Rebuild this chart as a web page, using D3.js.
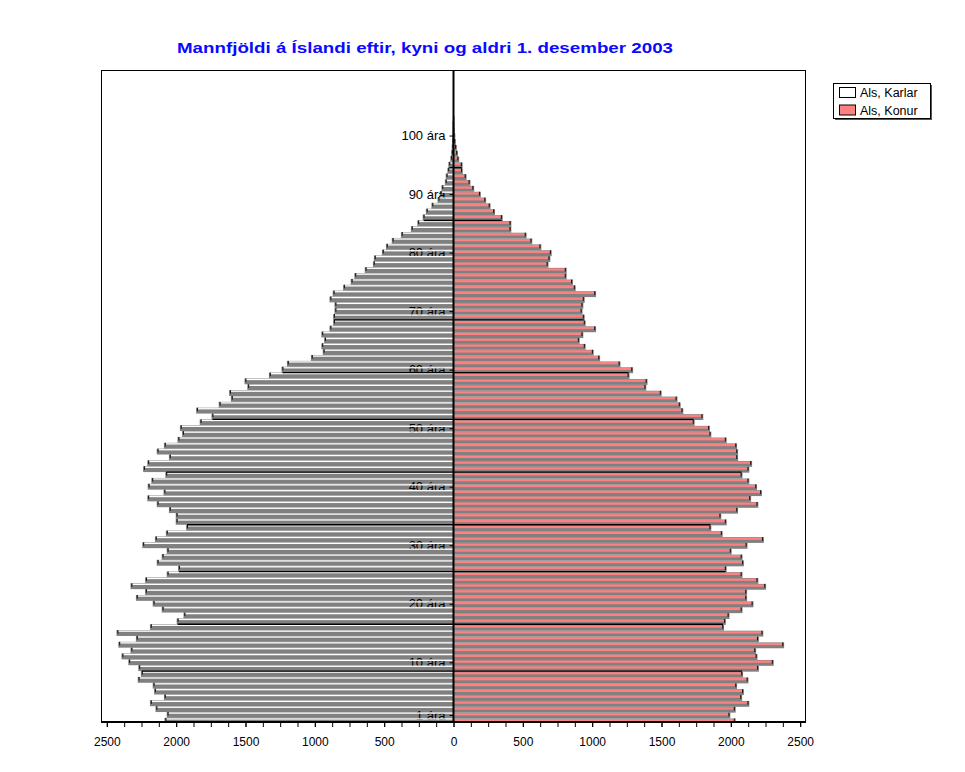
<!DOCTYPE html>
<html>
<head>
<meta charset="utf-8">
<script src="https://cdn.jsdelivr.net/npm/d3@7"></script>
<style>
  body { margin: 0; background: #fff; }
  svg { display: block; font-family: "Liberation Sans", Arial, sans-serif; }
</style>
</head>
<body>
<svg id="chart" width="965" height="772"></svg>
<script>
// Mannfjöldi eftir aldri (0–103 ára), 1. desember 2003
const ages = d3.range(0, 104);

const karlar = [
  2077, 2061, 2142, 2182, 2081, 2152, 2162, 2270, 2247, 2266,
  2338, 2387, 2322, 2410, 2283, 2423, 2182, 1989, 1940, 2097,
  2162, 2283, 2217, 2322, 2217, 2061, 1979, 2133, 2097, 2061,
  2237, 2146, 2067, 1921, 1996, 1996, 2045, 2133, 2201, 2084,
  2198, 2172, 2071, 2231, 2201, 2045, 2133, 2081, 1983, 1950,
  1966, 1823, 1738, 1849, 1686, 1598, 1611, 1480, 1500, 1324,
  1233, 1194, 1021, 936, 946, 926, 946, 887, 861, 861,
  851, 851, 887, 864, 789, 734, 708, 633, 574, 567,
  509, 480, 438, 372, 300, 254, 215, 192, 152, 108,
  92, 80, 55, 49, 37, 30, 16, 10, 6, 4,
  2, 1, 1, 0
];

const konur = [
  2028, 1989, 2028, 2126, 2074, 2087, 2038, 2120, 2081, 2195,
  2302, 2185, 2175, 2377, 2195, 2227, 1944, 1957, 1983, 2077,
  2156, 2110, 2110, 2247, 2191, 2077, 1963, 2087, 2077, 1999,
  2113, 2231, 1934, 1852, 1963, 1924, 2045, 2191, 2139, 2217,
  2182, 2126, 2077, 2126, 2146, 2045, 2045, 2038, 1963, 1852,
  1842, 1732, 1794, 1650, 1631, 1608, 1494, 1383, 1392, 1262,
  1288, 1197, 1050, 1004, 946, 903, 929, 1021, 946, 939,
  923, 929, 939, 1021, 874, 854, 809, 809, 678, 691,
  701, 626, 561, 520, 410, 410, 348, 292, 260, 228,
  190, 142, 115, 87, 60, 59, 34, 25, 17, 10,
  6, 3, 2, 1
];

const ageTicks = [1, 10, 20, 30, 40, 50, 60, 70, 80, 90, 100];
const valueTicks = [-2500, -2000, -1500, -1000, -500, 0, 500, 1000, 1500, 2000, 2500];
const minorTicks = d3.range(-2500, 2501, 125);
// boundaries (between age a and a+1) that render as dark rules
const edgeAges = [8, 16, 25, 33, 42, 51, 59, 68, 85, 94];

const seriesNames = ["Als, Karlar", "Als, Konur"];
const title = "Mannfjöldi á Íslandi eftir, kyni og aldri 1. desember 2003";

const svg = d3.select("#chart");
const plot = { left: 101, right: 806, top: 70, bottom: 722 };

const x = d3.scaleLinear().domain([-2542, 2542]).range([plot.left, plot.right]);
const y = d3.scaleLinear().domain([-0.2, 111.2]).range([plot.bottom, plot.top]);
const band = y(0) - y(1);
const x0 = x(0);

const GRAY = "#808080";
const RED = "#ff8080";

// title
svg.append("text")
  .attr("x", 425).attr("y", 53)
  .attr("text-anchor", "middle")
  .attr("font-size", 15.5).attr("font-weight", "bold")
  .attr("fill", "#0a0aff")
  .attr("textLength", 496).attr("lengthAdjust", "spacingAndGlyphs")
  .text(title);

// plot frame background
svg.append("rect")
  .attr("x", plot.left).attr("y", plot.top)
  .attr("width", plot.right - plot.left).attr("height", plot.bottom - plot.top)
  .attr("fill", "#fff");

svg.append("clipPath").attr("id", "plotClip")
  .append("rect")
  .attr("x", plot.left).attr("y", plot.top)
  .attr("width", plot.right - plot.left).attr("height", plot.bottom - plot.top);

const g = svg.append("g").attr("clip-path", "url(#plotClip)");

const rows = ages.map((a, i) => ({ age: a, m: karlar[i], f: konur[i] }));

// shadow layer
const shadow = g.append("g");
shadow.selectAll("rect.m").data(rows.filter(d => d.m > 0)).join("rect")
  .attr("class", "m")
  .attr("x", d => x(-d.m) - 1)
  .attr("y", d => y(d.age + 0.5))
  .attr("width", d => x0 - x(-d.m) + 1)
  .attr("height", band)
  .attr("fill", GRAY);
shadow.selectAll("rect.f").data(rows.filter(d => d.f > 0)).join("rect")
  .attr("class", "f")
  .attr("x", x0)
  .attr("y", d => y(d.age + 0.5) + 0.6)
  .attr("width", d => x(d.f) - x0 + 1)
  .attr("height", band)
  .attr("fill", GRAY);

// age axis sits at zero, between the shadow and the bars
const yAxis = g.append("g")
  .attr("transform", `translate(${x0},0)`)
  .call(d3.axisLeft(y).tickValues(ageTicks).tickFormat(d => d + " ára").tickSize(4).tickPadding(4));
yAxis.select(".domain").remove();
yAxis.selectAll("text").attr("font-size", 13).attr("font-family", "Liberation Sans, Arial, sans-serif").attr("fill", "#000");
yAxis.selectAll("line").attr("stroke", "#000");

// bar faces
const faces = g.append("g");
faces.selectAll("rect.m").data(rows.filter(d => d.m > 0)).join("rect")
  .attr("class", "m")
  .attr("x", d => x(-d.m) + 0.8)
  .attr("y", d => y(d.age + 0.5) + 0.4)
  .attr("width", d => Math.max(0, x0 - x(-d.m) - 0.8))
  .attr("height", 1.3)
  .attr("fill", "#fff");
faces.selectAll("rect.f").data(rows.filter(d => d.f > 0)).join("rect")
  .attr("class", "f")
  .attr("x", x0)
  .attr("y", d => y(d.age + 0.5) + 1.1)
  .attr("width", d => Math.max(0, x(d.f) - x0 - 0.8))
  .attr("height", 2.3)
  .attr("fill", RED);

// dark bar ends
const caps = g.append("g").attr("fill", "#1a1a1a");
caps.selectAll("rect.m").data(rows.filter(d => d.m > 2)).join("rect")
  .attr("class", "m")
  .attr("x", d => x(-d.m) - 0.2)
  .attr("y", d => y(d.age + 0.5))
  .attr("width", 1.1)
  .attr("height", 3.6);
caps.selectAll("rect.f").data(rows.filter(d => d.f > 2)).join("rect")
  .attr("class", "f")
  .attr("x", d => x(d.f) - 0.9)
  .attr("y", d => y(d.age + 0.5) + 0.6)
  .attr("width", 1.1)
  .attr("height", 3.8);

// dark rules at some age boundaries
const rules = edgeAges.map(a => ({
  age: a,
  m: Math.min(karlar[a], karlar[a + 1]),
  f: Math.min(konur[a], konur[a + 1])
}));
const ruleG = g.append("g").attr("stroke", "#000").attr("stroke-width", 1.4);
ruleG.selectAll("line.m").data(rules).join("line")
  .attr("class", "m")
  .attr("x1", d => x(-d.m)).attr("x2", x0)
  .attr("y1", d => y(d.age + 0.5)).attr("y2", d => y(d.age + 0.5));
ruleG.selectAll("line.f").data(rules).join("line")
  .attr("class", "f")
  .attr("x1", x0).attr("x2", d => x(d.f))
  .attr("y1", d => y(d.age + 0.5)).attr("y2", d => y(d.age + 0.5));

// zero line
svg.append("line")
  .attr("x1", x0).attr("x2", x0)
  .attr("y1", plot.top).attr("y2", plot.bottom)
  .attr("stroke", "#000").attr("stroke-width", 2);

// frame
svg.append("rect")
  .attr("x", plot.left + 0.5).attr("y", plot.top + 0.5)
  .attr("width", plot.right - plot.left - 1).attr("height", plot.bottom - plot.top - 1)
  .attr("fill", "none").attr("stroke", "#000").attr("stroke-width", 1);

// value axis
const xMinor = svg.append("g")
  .attr("transform", `translate(0,${plot.bottom})`)
  .call(d3.axisBottom(x).tickValues(minorTicks).tickFormat("").tickSize(5));
xMinor.select(".domain").remove();
xMinor.selectAll("line").attr("stroke", "#000");

const xAxis = svg.append("g")
  .attr("transform", `translate(0,${plot.bottom})`)
  .call(d3.axisBottom(x).tickValues(valueTicks).tickFormat(d => Math.abs(d)).tickSize(5).tickPadding(10));
xAxis.select(".domain").remove();
xAxis.selectAll("line").attr("stroke", "#000");
xAxis.selectAll("text").attr("font-size", 12).attr("font-family", "Liberation Sans, Arial, sans-serif").attr("fill", "#000");

svg.append("line")
  .attr("x1", plot.left).attr("x2", plot.right)
  .attr("y1", plot.bottom).attr("y2", plot.bottom)
  .attr("stroke", "#000").attr("stroke-width", 2);

// legend
const lg = svg.append("g").attr("transform", "translate(833,83)");
lg.append("rect").attr("x", 2).attr("y", 2).attr("width", 97).attr("height", 35).attr("fill", "#555");
lg.append("rect").attr("x", 0.5).attr("y", 0.5).attr("width", 97).attr("height", 35)
  .attr("fill", "#fff").attr("stroke", "#000").attr("stroke-width", 1);
const items = lg.selectAll("g.item").data(seriesNames).join("g")
  .attr("class", "item")
  .attr("transform", (d, i) => `translate(0,${i * 17.5})`);
items.append("rect")
  .attr("x", 6.5).attr("y", 4.5).attr("width", 16).attr("height", 10)
  .attr("fill", (d, i) => i === 0 ? "#fff" : RED)
  .attr("stroke", "#000").attr("stroke-width", 1);
items.append("text")
  .attr("x", 27).attr("y", 14)
  .attr("font-size", 12.5).attr("fill", "#000")
  .text(d => d);
</script>
</body>
</html>
